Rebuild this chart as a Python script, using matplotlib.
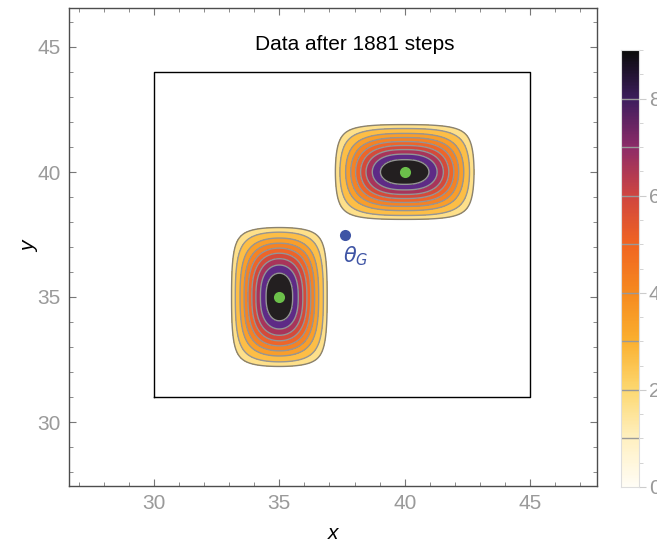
import numpy as np
import matplotlib
matplotlib.use('Agg')
import matplotlib.pyplot as plt
from matplotlib.colors import LinearSegmentedColormap
from matplotlib.ticker import MultipleLocator

plt.rcParams['font.family'] = ['Liberation Sans', 'DejaVu Sans']

# Blobs: centre, support half-width and profile shape
blob_centers = [(35.0, 35.0), (40.0, 40.0)]
blob_extents = [(2.14, 3.06), (3.04, 2.14)]
blob_powers = [(2.05, 2.45), (2.5, 1.95)]
peak_value = 9.0
edge_value = 0.4
contour_levels = [1, 2, 3, 4, 5, 6, 7, 8]

band_colors = ['#FEE08A', '#FDBE46', '#F99E2A', '#F58224', '#EE6529',
               '#D44A3A', '#A8345A', '#5E2A86', '#231F20']

bar_stops = [0, 1, 2, 3, 4, 5, 6, 7, 8, 9]
bar_colors = ['#FFFDF5', '#FFF0C0', '#FDD870', '#FBB030', '#F68A1F',
              '#F16522', '#D04640', '#8E2C68', '#3E1E5E', '#0B0B0B']

theta_g = (37.6, 37.5)
title_text = 'Data after 1881 steps'
box_x = [30, 45, 45, 30, 30]
box_y = [31, 31, 44, 44, 31]

gray = '#9a9a9a'
frame = '#4d4d4d'

# density field: product of two compact 1D profiles per blob
xs = np.linspace(26, 48, 800)
ys = np.linspace(27, 47, 800)
X, Y = np.meshgrid(xs, ys)
Z = np.zeros_like(X)
for (cx, cy), (rx, ry), (px, py) in zip(blob_centers, blob_extents, blob_powers):
    a = np.clip(1 - np.abs((X - cx) / rx) ** px, 0, None) ** 2
    b = np.clip(1 - np.abs((Y - cy) / ry) ** py, 0, None) ** 2
    Z += peak_value * a * b

fig = plt.figure(figsize=(6.57, 5.45), dpi=100)
ax = fig.add_axes([69 / 657, 59 / 545, 528 / 657, 478 / 545])

fill_levels = [edge_value] + contour_levels + [peak_value + 1]
ax.contourf(X, Y, Z, levels=fill_levels, colors=band_colors)
ax.contour(X, Y, Z, levels=[edge_value], colors='#8a8270', linewidths=1.0)
ax.contour(X, Y, Z, levels=contour_levels, colors='#959595', linewidths=1.0)

ax.plot(box_x, box_y, color='black', lw=1)

for cx, cy in blob_centers:
    ax.plot(cx, cy, 'o', color='#6CC04A', markersize=8, markeredgewidth=0)

ax.plot(theta_g[0], theta_g[1], 'o', color='#3F55A5', markersize=8, markeredgewidth=0)
ax.text(theta_g[0] + 0.45, theta_g[1] - 0.85, r'$\theta_G$', color='#3F55A5',
        fontsize=15, ha='center', va='center')

ax.text(38.0, 45.08, title_text, fontsize=15, ha='center', va='center')

ax.set_xlim(26.61, 47.67)
ax.set_ylim(27.44, 46.56)
ax.xaxis.set_major_locator(MultipleLocator(5))
ax.yaxis.set_major_locator(MultipleLocator(5))
ax.xaxis.set_minor_locator(MultipleLocator(1))
ax.yaxis.set_minor_locator(MultipleLocator(1))
ax.tick_params(which='both', direction='in', top=True, right=True,
               color='#777777', labelcolor=gray, labelsize=15)
ax.tick_params(which='major', length=5, width=0.8, pad=6)
ax.tick_params(which='minor', length=3, width=0.6)
for s in ax.spines.values():
    s.set_color(frame)
    s.set_linewidth(1)

ax.set_xlabel('x', fontsize=15, style='italic', labelpad=8)
ax.set_ylabel('y', fontsize=15, style='italic', labelpad=-1.5)

# colour bar
cmap = LinearSegmentedColormap.from_list(
    'bar', [(s / 9, c) for s, c in zip(bar_stops, bar_colors)])
cax = fig.add_axes([621 / 657, 58 / 545, 18 / 657, 437 / 545])
grad = np.linspace(0, 9, 400).reshape(-1, 1)
cax.imshow(grad, cmap=cmap, origin='lower', aspect='auto', extent=[0, 1, 0, 9])
for lv in contour_levels:
    cax.axhline(lv, color='#999999', lw=1)
cax.set_xlim(0, 1)
cax.set_ylim(0, 9)
cax.set_xticks([])
cax.yaxis.tick_right()
cax.set_yticks([0, 2, 4, 6, 8])
cax.yaxis.set_minor_locator(MultipleLocator(0.5))
cax.tick_params(axis='y', which='both', direction='out', color='#cccccc',
                labelcolor=gray, labelsize=15, pad=2)
cax.tick_params(axis='y', which='major', length=5)
cax.tick_params(axis='y', which='minor', length=3)
for s in cax.spines.values():
    s.set_color('#dddddd')

fig.savefig('out.png', dpi=100)
